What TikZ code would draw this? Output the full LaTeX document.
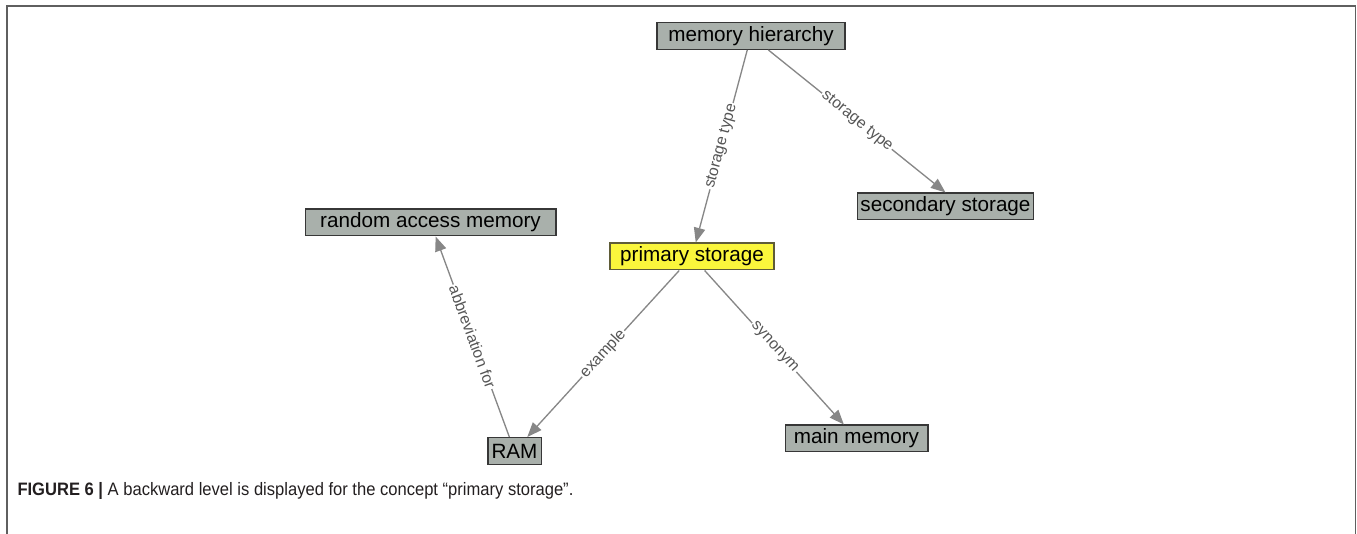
\documentclass[tikz,border=0pt]{standalone}
\usepackage{fontspec}
\usepackage{graphicx}
\setmainfont{Liberation Sans}
\usetikzlibrary{arrows.meta}

\definecolor{boxgray}{RGB}{169,176,171}
\definecolor{boxedge}{RGB}{55,55,55}
\definecolor{hlyellow}{RGB}{250,246,60}
\definecolor{hledge}{RGB}{95,92,55}
\definecolor{edgegray}{RGB}{135,135,135}
\definecolor{labelgray}{RGB}{85,85,85}
\definecolor{framegray}{RGB}{95,95,95}
\definecolor{captext}{RGB}{35,31,32}

\tikzset{every picture/.style={line width=0.75pt}}
\tikzset{
  concept/.style={draw=boxedge, fill=boxgray, line width=1pt, inner xsep=2pt, inner ysep=0pt,
    minimum height=20pt, font=\fontsize{15.5}{18}\selectfont},
  focus/.style={concept, fill=hlyellow, draw=hledge},
  relation/.style={draw=edgegray, line width=1pt, -{Triangle[length=11pt,width=8.5pt]}},
  rellabel/.style={sloped, midway, fill=white, inner sep=1pt, text=labelgray,
    font=\fontsize{11.8}{13}\selectfont}
}

\begin{document}
\begin{tikzpicture}[x=0.75pt,y=0.75pt]
\useasboundingbox (0,0) rectangle (1357,-534);

%Frame
\draw [framegray, line width=1.1pt] (7,-534) -- (7,-6) -- (1355.5,-6) -- (1355.5,-534);

% Concept nodes
\node [concept, minimum width=141pt] (hier) at (751,-36) {memory hierarchy};
\node [concept, minimum width=124pt] (second) at (945.5,-206.5) {secondary storage};
\node [concept, minimum width=188pt] (randacc) at (430.5,-222.5) {random access memory};
\node [focus, minimum width=123pt] (primary) at (692,-256.5) {primary storage};
\node [concept, minimum width=40pt] (ram) at (514.5,-451) {RAM};
\node [concept, minimum width=107pt] (mainmem) at (856.5,-438.5) {main memory};

%Relations
\draw [relation] (hier) -- (primary) node [rellabel] {storage type};
\draw [relation] (hier) -- (second.north) node [rellabel] {storage type};
\draw [relation] (ram) -- (randacc) node [rellabel] {abbreviation for};
\draw [relation] (primary) -- (ram) node [rellabel] {example};
\draw [relation] (primary) -- (mainmem) node [rellabel] {synonym};

% Text Node
\node [anchor=base west, text=captext, inner sep=0pt, font=\fontsize{13.5}{16}\selectfont] (caption) at (17,-495)
  {\scalebox{0.92}[1]{\textbf{FIGURE 6 |} A backward level is displayed for the concept “primary storage”.}};

\end{tikzpicture}
\end{document}
